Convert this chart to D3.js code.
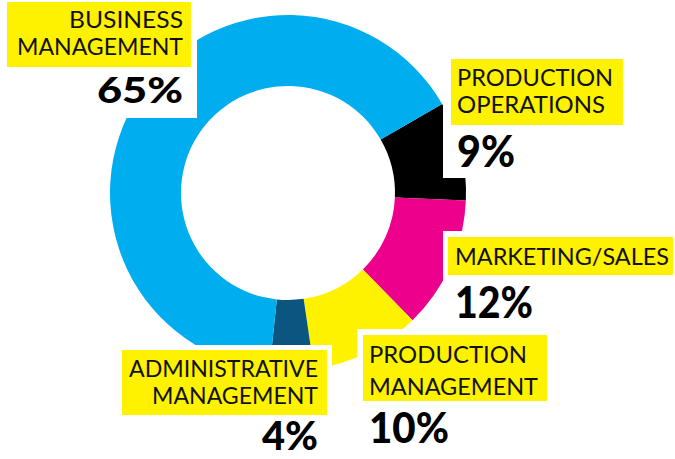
<!DOCTYPE html>
<html>
<head>
<meta charset="utf-8">
<script src="https://cdn.jsdelivr.net/npm/d3@7"></script>
<style>
  html, body { margin: 0; padding: 0; background: #fff; }
  svg { display: block; }
</style>
</head>
<body>
<svg id="chart" width="675" height="459"></svg>
<script>
// Job-function breakdown, drawn clockwise starting with Production Operations
const categories = ["Production Operations", "Marketing/Sales", "Production Management", "Administrative Management", "Business Management"];
const labelLines = [["PRODUCTION", "OPERATIONS"], ["MARKETING/SALES"], ["PRODUCTION", "MANAGEMENT"], ["ADMINISTRATIVE", "MANAGEMENT"], ["BUSINESS", "MANAGEMENT"]];
const shares = [9, 12, 10, 4, 65];
const colors = ["#000000", "#ec008c", "#fff200", "#0b5680", "#00aeef"];

// Label placement: text anchor/x, baselines and widths, yellow tag box, white knock-out box
const labelLayout = [
  { anchor: "start", x: 457, lines: [{ y: 86, w: 156 }, { y: 113, w: 148 }], pct: { y: 167, size: 43, w: 58 },
    box: [451, 59, 172, 66], knock: [443, 45, 200, 133] },
  { anchor: "start", x: 455, lines: [{ y: 265, w: 214 }], pct: { y: 318, size: 43, w: 78 },
    box: [448, 237, 225, 38], knock: [443, 231, 232, 100] },
  { anchor: "start", x: 369, lines: [{ y: 363, w: 158 }, { y: 395, w: 169 }], pct: { y: 443, size: 42, w: 80 },
    box: [363, 335, 184, 66], knock: [357, 329, 210, 130] },
  { anchor: "end", x: 318, lines: [{ y: 377, w: 189 }, { y: 404, w: 166 }], pct: { y: 450, size: 40, w: 56 },
    box: [122, 350, 205, 65], knock: [100, 345, 232, 114] },
  { anchor: "end", x: 183, lines: [{ y: 28, w: 114 }, { y: 55, w: 166 }], pct: { y: 103, size: 36, w: 86 },
    box: [7, 2, 184, 65], knock: [0, 0, 197, 118] }
];

const svg = d3.select("#chart");
const cx = 288, cy = 193, outerR = 178, innerR = 107;
const startDeg = 60;

const rows = categories.map((c, i) => ({ name: c, value: shares[i], color: colors[i], lines: labelLines[i], layout: labelLayout[i] }));

const pie = d3.pie()
  .sort(null)
  .value(d => d.value)
  .startAngle(startDeg * Math.PI / 180)
  .endAngle(startDeg * Math.PI / 180 + 2 * Math.PI);

const arc = d3.arc().innerRadius(innerR).outerRadius(outerR);

// Ring
svg.append("g")
  .attr("transform", `translate(${cx},${cy})`)
  .selectAll("path")
  .data(pie(rows))
  .join("path")
  .attr("d", arc)
  .attr("fill", d => d.data.color);

// White knock-out areas behind each label
svg.append("g")
  .selectAll("rect")
  .data(rows)
  .join("rect")
  .attr("x", d => d.layout.knock[0])
  .attr("y", d => d.layout.knock[1])
  .attr("width", d => d.layout.knock[2])
  .attr("height", d => d.layout.knock[3])
  .attr("fill", "#fff");

// Yellow name tags
svg.append("g")
  .selectAll("rect")
  .data(rows)
  .join("rect")
  .attr("x", d => d.layout.box[0])
  .attr("y", d => d.layout.box[1])
  .attr("width", d => d.layout.box[2])
  .attr("height", d => d.layout.box[3])
  .attr("fill", "#fff200");

const labels = svg.append("g").selectAll("g").data(rows).join("g");

labels.each(function (d) {
  const g = d3.select(this);
  const L = d.layout;
  d.lines.forEach((t, j) => {
    g.append("text")
      .attr("x", L.x)
      .attr("y", L.lines[j].y)
      .attr("text-anchor", L.anchor)
      .attr("font-family", "Lato, 'Open Sans', sans-serif")
      .attr("font-weight", 400)
      .attr("font-size", 24)
      .attr("fill", "#111")
      .attr("textLength", L.lines[j].w)
      .attr("lengthAdjust", "spacingAndGlyphs")
      .text(t);
  });
  g.append("text")
    .attr("x", L.x)
    .attr("y", L.pct.y)
    .attr("text-anchor", L.anchor)
    .attr("font-family", "Lato, 'Open Sans', sans-serif")
    .attr("font-weight", 900)
    .attr("font-size", L.pct.size)
    .attr("fill", "#000")
    .attr("textLength", L.pct.w)
    .attr("lengthAdjust", "spacingAndGlyphs")
    .text(`${d.value}%`);
});
</script>
</body>
</html>
